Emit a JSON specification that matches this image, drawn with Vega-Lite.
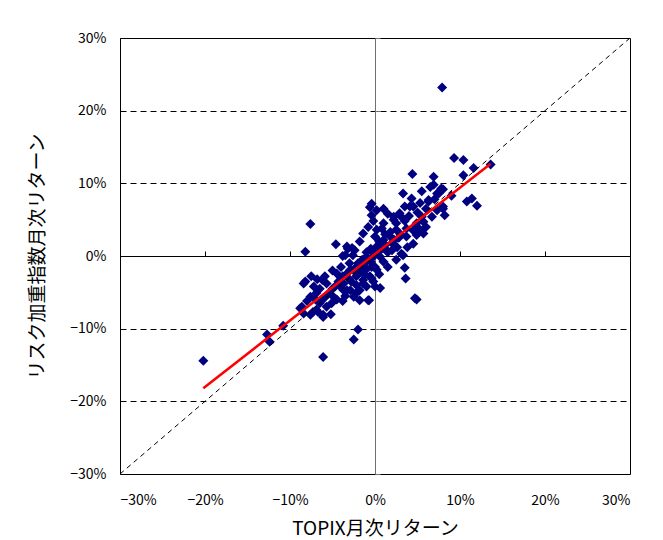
{
  "$schema": "https://vega.github.io/schema/vega-lite/v6.json",
  "width": 510,
  "height": 436,
  "autosize": "none",
  "padding": {"left": 120, "top": 38, "right": 33, "bottom": 66},
  "background": "white",
  "config": {
    "font": "Noto Sans CJK JP",
    "view": {"stroke": "black", "strokeWidth": 1}
  },
  "datasets": {
    "pts": [
      {"x": -20.2, "y": -14.4}, {"x": 7.9, "y": 23.2}, {"x": -7.6, "y": 4.4}, {"x": -8.2, "y": 0.6},
      {"x": -4.6, "y": 1.6}, {"x": -3.8, "y": 0.0}, {"x": -3.2, "y": 1.0}, {"x": -2.7, "y": 1.1},
      {"x": -12.7, "y": -10.8}, {"x": -12.4, "y": -11.8}, {"x": -10.8, "y": -9.6}, {"x": -6.1, "y": -13.9},
      {"x": -2.0, "y": -10.1}, {"x": -2.5, "y": -11.5}, {"x": -8.4, "y": -3.8}, {"x": -7.5, "y": -2.8},
      {"x": -8.6, "y": -7.0}, {"x": -8.4, "y": -7.9}, {"x": -7.6, "y": -8.1}, {"x": -7.3, "y": -7.7},
      {"x": -6.9, "y": -7.4}, {"x": -6.1, "y": -8.1}, {"x": -5.7, "y": -7.0}, {"x": -5.1, "y": -6.5},
      {"x": -6.5, "y": -6.5}, {"x": -7.6, "y": -5.6}, {"x": -6.9, "y": -5.1}, {"x": -5.9, "y": -2.8},
      {"x": -5.7, "y": -3.8}, {"x": -4.5, "y": -2.4}, {"x": -4.7, "y": -4.2}, {"x": -3.7, "y": -4.7},
      {"x": -3.3, "y": -2.4}, {"x": -2.5, "y": -5.6}, {"x": -1.8, "y": -6.1}, {"x": -0.8, "y": -6.1},
      {"x": -1.4, "y": -3.8}, {"x": -2.2, "y": -2.8}, {"x": -1.2, "y": -1.0}, {"x": 0.2, "y": -1.9},
      {"x": 0.0, "y": -4.2}, {"x": -2.6, "y": 0.1}, {"x": -3.5, "y": 0.1}, {"x": -0.2, "y": -0.1},
      {"x": -1.8, "y": -4.7}, {"x": -8.8, "y": -7.2}, {"x": -6.7, "y": -7.7}, {"x": -6.1, "y": -8.4},
      {"x": -4.9, "y": -5.6}, {"x": -4.1, "y": -4.2}, {"x": -2.9, "y": -4.7}, {"x": -2.2, "y": -5.1},
      {"x": -1.0, "y": -4.2}, {"x": -0.7, "y": -6.1}, {"x": -6.2, "y": -3.3}, {"x": -8.2, "y": -3.5},
      {"x": -0.6, "y": 6.7}, {"x": -0.4, "y": 5.6}, {"x": -0.8, "y": 4.0}, {"x": -1.4, "y": 3.1},
      {"x": 0.0, "y": 2.7}, {"x": -2.2, "y": -1.5}, {"x": -1.0, "y": -0.1}, {"x": 0.0, "y": -1.5},
      {"x": 4.4, "y": 11.3}, {"x": 9.3, "y": 13.5}, {"x": 10.4, "y": 13.2}, {"x": 11.6, "y": 12.1},
      {"x": 13.6, "y": 12.6}, {"x": 10.4, "y": 11.1}, {"x": 6.9, "y": 10.9}, {"x": 6.9, "y": 9.8},
      {"x": 8.0, "y": 9.2}, {"x": 7.3, "y": 8.6}, {"x": 9.0, "y": 8.3}, {"x": 10.8, "y": 7.5},
      {"x": 11.4, "y": 7.9}, {"x": 12.0, "y": 6.9}, {"x": 8.0, "y": 6.5}, {"x": 8.2, "y": 5.6},
      {"x": 6.7, "y": 5.4}, {"x": 5.5, "y": 8.9}, {"x": 3.3, "y": 8.6}, {"x": 4.3, "y": 7.9},
      {"x": 6.3, "y": 7.7}, {"x": 5.7, "y": 4.7}, {"x": 4.9, "y": 4.5}, {"x": 4.5, "y": 6.8},
      {"x": 3.5, "y": 6.8}, {"x": 3.1, "y": 5.4}, {"x": 2.2, "y": 5.0}, {"x": 0.2, "y": 6.3},
      {"x": -0.4, "y": 7.2}, {"x": 1.0, "y": 4.5}, {"x": 0.2, "y": 3.6}, {"x": 1.8, "y": 3.3},
      {"x": 3.7, "y": 3.8}, {"x": 5.3, "y": 3.6}, {"x": 4.9, "y": 2.9}, {"x": 3.1, "y": 0.3},
      {"x": 3.5, "y": -1.6}, {"x": 3.6, "y": -3.1}, {"x": 0.6, "y": -4.4}, {"x": 4.9, "y": -6.0},
      {"x": 4.7, "y": -5.8}, {"x": -0.4, "y": -3.1}, {"x": 2.9, "y": 5.9}, {"x": 4.1, "y": 6.8},
      {"x": 5.3, "y": 7.3}, {"x": 6.3, "y": 7.5}, {"x": 7.3, "y": 6.3}, {"x": 5.5, "y": 5.4},
      {"x": 4.9, "y": 4.0}, {"x": 5.7, "y": 3.1}, {"x": 4.5, "y": 1.7}, {"x": 3.7, "y": 2.7},
      {"x": 2.5, "y": 3.6}, {"x": 1.8, "y": 2.7}, {"x": 1.0, "y": 2.2}, {"x": 0.2, "y": 1.3},
      {"x": -0.2, "y": 0.4}, {"x": 0.6, "y": -0.1}, {"x": 1.4, "y": 0.8}, {"x": 3.3, "y": 0.1},
      {"x": -2.9, "y": -1.9}, {"x": -3.3, "y": 1.3}, {"x": -1.8, "y": -1.5}, {"x": -1.4, "y": -3.3},
      {"x": -0.6, "y": -2.8}, {"x": -0.4, "y": -1.5}, {"x": -3.7, "y": -3.8}, {"x": -3.3, "y": -4.7},
      {"x": 7.8, "y": 9.3}, {"x": 7.5, "y": 8.6}, {"x": 8.0, "y": 6.8}, {"x": 1.0, "y": 6.5},
      {"x": 2.2, "y": 5.4}, {"x": -4.0, "y": -3.0}, {"x": -3.0, "y": -3.2}, {"x": -2.5, "y": -2.0},
      {"x": -2.0, "y": -2.5}, {"x": -1.5, "y": -2.0}, {"x": -1.0, "y": -1.8}, {"x": -0.5, "y": -0.8},
      {"x": 0.3, "y": 0.5}, {"x": 0.8, "y": 1.0}, {"x": 1.2, "y": 1.5}, {"x": 1.5, "y": 0.5},
      {"x": 2.0, "y": 1.8}, {"x": 2.3, "y": 2.2}, {"x": 2.8, "y": 2.5}, {"x": 3.0, "y": 3.0},
      {"x": 1.2, "y": 3.0}, {"x": 0.5, "y": 2.0}, {"x": -0.5, "y": 1.0}, {"x": -1.0, "y": 0.5},
      {"x": -1.5, "y": -0.5}, {"x": -2.0, "y": -1.0}, {"x": -2.8, "y": -3.5}, {"x": -3.8, "y": -2.8},
      {"x": -4.3, "y": -3.5}, {"x": -5.0, "y": -4.5}, {"x": -5.5, "y": -5.2}, {"x": -4.5, "y": -6.0},
      {"x": -3.5, "y": -5.5}, {"x": -6.5, "y": -4.5}, {"x": -7.0, "y": -6.0}, {"x": 2.5, "y": 4.5},
      {"x": 3.5, "y": 4.8}, {"x": 4.0, "y": 5.5}, {"x": 4.5, "y": 3.5}, {"x": 5.0, "y": 6.0},
      {"x": 6.0, "y": 6.5}, {"x": 6.0, "y": 4.0}, {"x": 2.0, "y": 0.8}, {"x": 1.0, "y": -0.8},
      {"x": 0.5, "y": -2.5}, {"x": -0.2, "y": -3.5}, {"x": 1.5, "y": -1.5}, {"x": 2.5, "y": -0.5},
      {"x": 0.8, "y": 3.8}, {"x": 1.5, "y": 5.8}, {"x": -0.2, "y": 4.8}, {"x": -1.8, "y": 2.0},
      {"x": -2.4, "y": 0.8}, {"x": 7.0, "y": 7.8}, {"x": 6.5, "y": 9.5}, {"x": 3.8, "y": 1.2},
      {"x": 2.6, "y": 1.2}, {"x": -1.2, "y": -2.6}, {"x": -3.0, "y": -1.0}, {"x": -4.0, "y": -1.5},
      {"x": -5.0, "y": -2.0}, {"x": -2.2, "y": -4.0}, {"x": -3.8, "y": -6.2}, {"x": -6.0, "y": -5.8},
      {"x": -7.2, "y": -4.2}, {"x": -5.2, "y": -8.0}, {"x": -8.0, "y": -6.2}, {"x": -6.8, "y": -3.2}
    ],
    "diag": [{"x": -30, "y": -30}, {"x": 30, "y": 30}],
    "reg": [{"x": -20.2, "y": -18.2}, {"x": 13.6, "y": 12.7}]
  },
  "layer": [
    {
      "data": {"name": "pts"},
      "mark": {"type": "point", "shape": "diamond", "filled": true, "color": "#000080", "size": 100, "opacity": 1},
      "encoding": {
        "x": {
          "field": "x", "type": "quantitative",
          "scale": {"domain": [-30, 30], "nice": false, "zero": false},
          "axis": {
            "orient": "bottom", "values": [-30, -20, -10, 0, 10, 20, 30],
            "labelExpr": "format(datum.value, 'd') + '%'",
            "grid": false, "domain": false, "ticks": false,
            "labelFontSize": 14, "labelColor": "black", "labelPadding": 19,
            "title": "TOPIX月次リターン", "titleFontSize": 19, "titleFontWeight": "normal",
            "titleColor": "black", "titlePadding": 12
          }
        },
        "y": {
          "field": "y", "type": "quantitative",
          "scale": {"domain": [-30, 30], "nice": false, "zero": false},
          "axis": {
            "orient": "left", "values": [-30, -20, -10, 0, 10, 20, 30],
            "labelExpr": "format(datum.value, 'd') + '%'",
            "grid": true, "gridColor": "black", "gridDash": [6, 4], "gridWidth": 1, "gridOpacity": 1,
            "domain": false, "ticks": false,
            "labelFontSize": 14, "labelColor": "black", "labelPadding": 14,
            "title": "リスク加重指数月次リターン", "titleFontSize": 19, "titleFontWeight": "normal",
            "titleColor": "black", "titlePadding": 22
          }
        }
      }
    },
    {
      "data": {"name": "diag"},
      "mark": {"type": "line", "color": "black", "strokeWidth": 1, "strokeDash": [5, 4]},
      "encoding": {
        "x": {"field": "x", "type": "quantitative", "axis": null},
        "y": {
          "field": "y", "type": "quantitative",
          "axis": {
            "orient": "right", "offset": -255, "values": [-30, -20, -10, 0, 10, 20, 30],
            "labels": false, "title": null, "grid": false,
            "domain": true, "domainColor": "#707070", "domainWidth": 1,
            "ticks": true, "tickColor": "#707070", "tickSize": 5, "tickWidth": 1
          }
        }
      }
    },
    {
      "data": {"name": "reg"},
      "mark": {"type": "line", "color": "#ff0000", "strokeWidth": 2.5},
      "encoding": {
        "x": {
          "field": "x", "type": "quantitative",
          "axis": {
            "orient": "top", "offset": -218, "values": [-30, -20, -10, 0, 10, 20, 30],
            "labels": false, "title": null, "grid": false,
            "domain": true, "domainColor": "black", "domainWidth": 1,
            "ticks": true, "tickColor": "black", "tickSize": 5, "tickWidth": 1
          }
        },
        "y": {"field": "y", "type": "quantitative", "axis": null}
      }
    }
  ]
}
